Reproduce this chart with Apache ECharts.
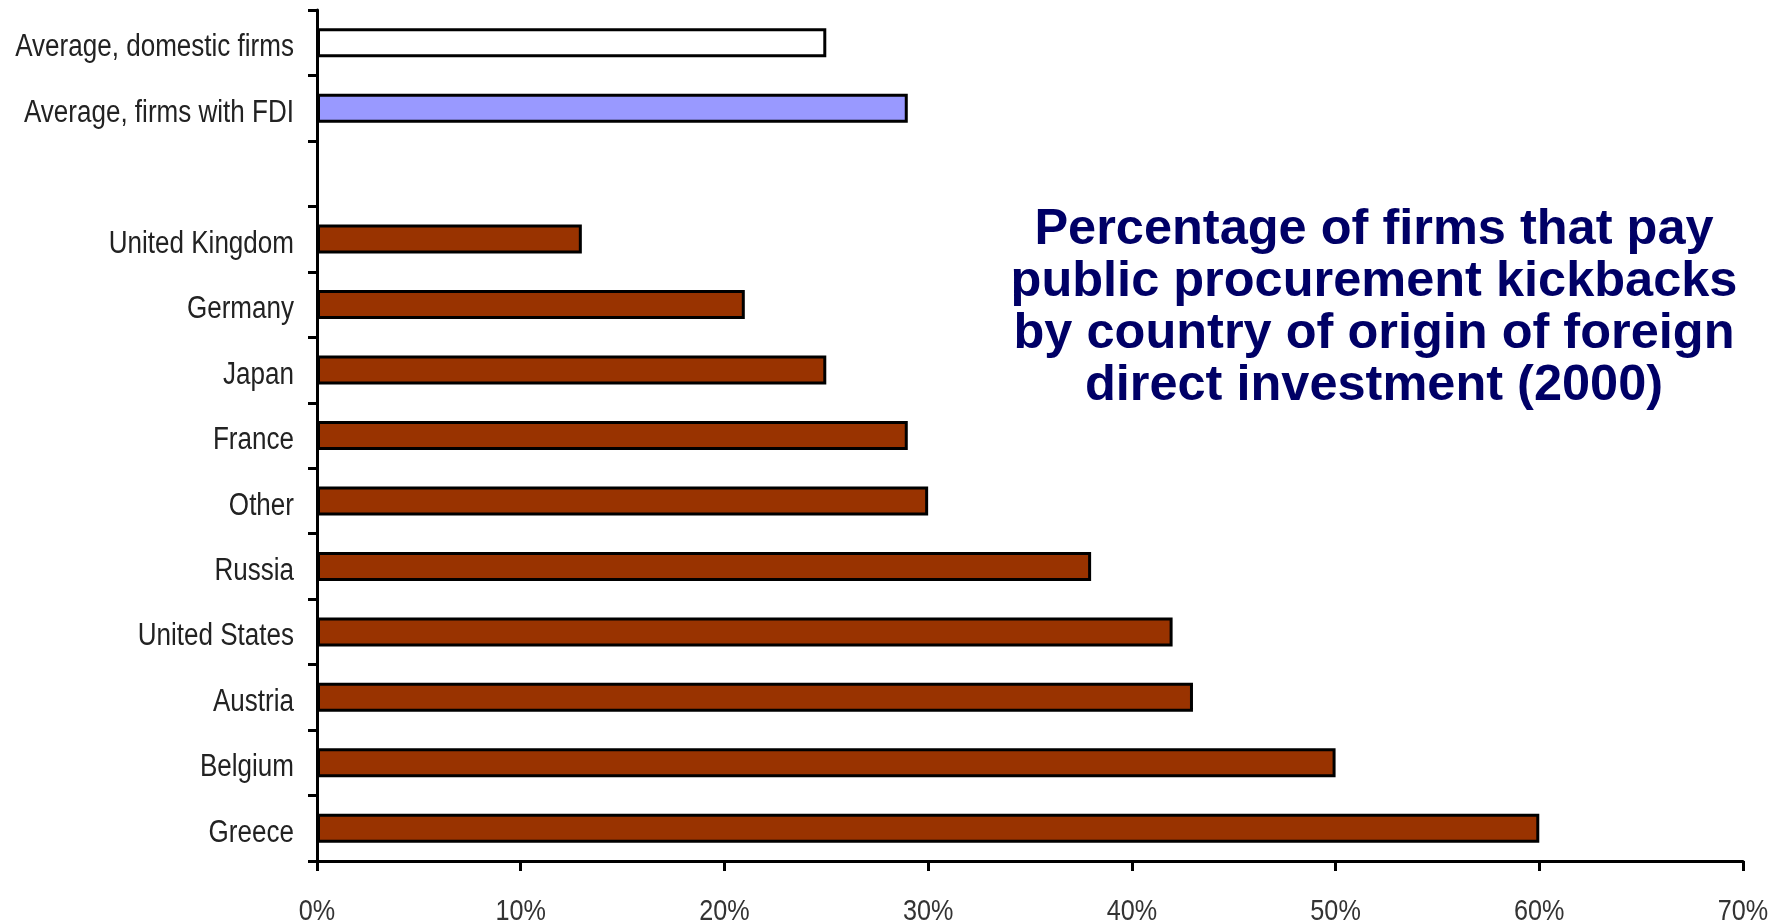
<!DOCTYPE html>
<html>
<head>
<meta charset="utf-8">
<script src="https://cdn.jsdelivr.net/npm/echarts@6/dist/echarts.min.js"></script>
<style>
html,body{margin:0;padding:0;background:#fff;}
#chart{width:1780px;height:922px;}
</style>
</head>
<body>
<div id="chart"></div>
<script>
const categories = ['Average, domestic firms','Average, firms with FDI','','United Kingdom','Germany','Japan','France','Other','Russia','United States','Austria','Belgium','Greece'];
const values = [25, 29, null, 13, 21, 25, 29, 30, 38, 42, 43, 50, 60];
const xTicks = [0, 10, 20, 30, 40, 50, 60, 70];
const titleText = 'Percentage of firms that pay\npublic procurement kickbacks\nby country of origin of foreign\ndirect investment (2000)';

function barColor(i) {
  if (i === 0) return '#ffffff';
  if (i === 1) return '#9999ff';
  return '#993300';
}

const GRID = { left: 317, right: 37, top: 10, bottom: 61 };
const H = 922;
const NARROW = 0.84;   // horizontal squeeze to mimic a narrow sans face

const chart = echarts.init(document.getElementById('chart'));
chart.setOption({
  animation: false,
  backgroundColor: '#ffffff',
  title: {
    text: titleText,
    left: 1374,
    top: 204,
    padding: 0,
    textAlign: 'center',
    textStyle: {
      fontFamily: 'Liberation Sans',
      fontWeight: 'bold',
      fontSize: 50.5,
      lineHeight: 52,
      color: '#000066'
    }
  },
  grid: { left: GRID.left, right: GRID.right, top: GRID.top, bottom: GRID.bottom, containLabel: false, outerBoundsMode: 'none' },
  xAxis: {
    type: 'value',
    min: xTicks[0],
    max: xTicks[xTicks.length - 1],
    interval: 10,
    splitLine: { show: false },
    axisLine: { show: true, lineStyle: { color: '#000', width: 3 } },
    axisTick: { show: true, length: 10, lineStyle: { color: '#000', width: 3 } },
    axisLabel: { show: false }
  },
  yAxis: {
    type: 'category',
    data: categories,
    inverse: true,
    axisLine: { show: true, lineStyle: { color: '#000', width: 3 } },
    axisTick: { show: true, length: 9, alignWithLabel: false, lineStyle: { color: '#000', width: 3 } },
    axisLabel: { show: false },
    splitLine: { show: false }
  },
  series: [{
    type: 'bar',
    barWidth: 29,
    data: values.map((v, i) => ({
      value: v,
      itemStyle: { color: barColor(i), borderColor: '#000', borderWidth: 3 }
    }))
  }]
});

// axis labels, placed through the chart's own scales and squeezed horizontally
const labels = [];
categories.forEach((c, i) => {
  if (!c) return;
  const p = chart.convertToPixel({ gridIndex: 0 }, [0, c]);
  labels.push({
    type: 'text',
    x: p[0] - 23,
    y: p[1] + 5,
    scaleX: NARROW,
    style: {
      text: c,
      font: '31px "Liberation Sans", Arial, sans-serif',
      fill: '#222',
      align: 'right',
      verticalAlign: 'middle'
    }
  });
});
const axisY = H - GRID.bottom;
xTicks.forEach(v => {
  const px = chart.convertToPixel({ xAxisIndex: 0 }, v);
  labels.push({
    type: 'text',
    x: px,
    y: axisY + 51,
    scaleX: NARROW,
    style: {
      text: v + '%',
      font: '30px "Liberation Sans", Arial, sans-serif',
      fill: '#333',
      align: 'center',
      verticalAlign: 'middle'
    }
  });
});
chart.setOption({ graphic: { elements: labels } });
</script>
</body>
</html>
